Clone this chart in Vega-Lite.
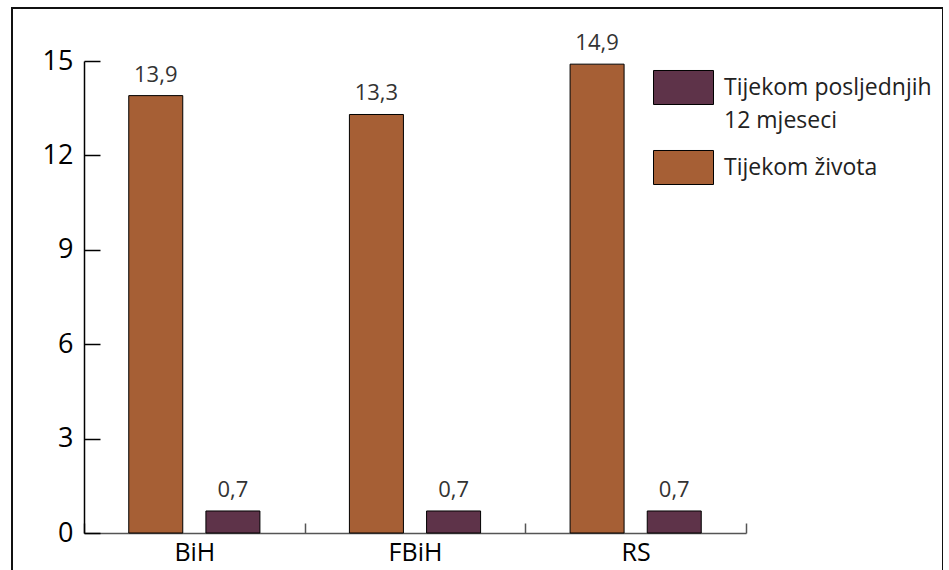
{
  "$schema": "https://vega.github.io/schema/vega-lite/v6.json",
  "width": 931,
  "height": 570,
  "autosize": {"type": "none"},
  "padding": {"left": 12, "top": 8, "right": 0, "bottom": 0},
  "config": {
    "view": {"stroke": "#111111", "strokeWidth": 2},
    "locale": {"number": {"decimal": ",", "thousands": ".", "grouping": [3], "currency": ["", ""]}},
    "font": "Open Sans",
    "style": {"guide-label": {"lineHeight": 33}}
  },
  "data": {
    "values": [
      {"region": "BiH", "period": "Tijekom života", "value": 13.9},
      {"region": "BiH", "period": "Tijekom posljednjih 12 mjeseci", "value": 0.7},
      {"region": "FBiH", "period": "Tijekom života", "value": 13.3},
      {"region": "FBiH", "period": "Tijekom posljednjih 12 mjeseci", "value": 0.7},
      {"region": "RS", "period": "Tijekom života", "value": 14.9},
      {"region": "RS", "period": "Tijekom posljednjih 12 mjeseci", "value": 0.7}
    ]
  },
  "encoding": {
    "x": {
      "field": "region", "type": "nominal", "sort": ["BiH", "FBiH", "RS"],
      "scale": {"range": [72, 734], "paddingInner": 0, "paddingOuter": 0},
      "axis": {"title": null, "offset": -45, "tickBand": "extent", "tickSize": -10, "domainColor": "#555555", "tickColor": "#555555", "domainWidth": 1.5, "tickWidth": 1.5, "labelFontSize": 25, "labelColor": "#000000", "labelPadding": 17, "labelAngle": 0}
    },
    "xOffset": {
      "field": "period", "type": "nominal", "sort": ["Tijekom života", "Tijekom posljednjih 12 mjeseci"],
      "scale": {"paddingInner": 0.3, "paddingOuter": 0.58}
    },
    "y": {
      "field": "value", "type": "quantitative",
      "scale": {"domain": [0, 15], "range": [525, 53], "nice": false},
      "axis": {"title": null, "grid": false, "values": [0, 3, 6, 9, 12, 15], "format": "d", "offset": -72, "domainColor": "#000000", "tickColor": "#000000", "domainWidth": 1.5, "tickWidth": 1.5, "tickSize": -16, "labelPadding": 27, "labelFontSize": 27, "labelColor": "#000000"}
    }
  },
  "layer": [
    {
      "mark": {"type": "bar", "stroke": "#000000", "strokeWidth": 1},
      "encoding": {
        "color": {
          "field": "period", "type": "nominal",
          "scale": {"domain": ["Tijekom posljednjih 12 mjeseci", "Tijekom života"], "range": ["#5E3349", "#A65F35"]},
          "legend": {
            "orient": "none", "legendX": 641, "legendY": 49, "title": null, "padding": 0,
            "symbolType": "M-1,-0.567L1,-0.567L1,0.567L-1,0.567Z", "symbolSize": 3600,
            "symbolStrokeColor": "#000000", "symbolStrokeWidth": 1, "symbolOpacity": 1,
            "labelFontSize": 23, "labelColor": "#222222", "labelLimit": 300, "labelOffset": 10,
            "rowPadding": 4,
            "labelExpr": "datum.label == 'Tijekom posljednjih 12 mjeseci' ? ['Tijekom posljednjih', '12 mjeseci'] : datum.label"
          }
        }
      }
    },
    {
      "mark": {"type": "text", "dy": -21, "fontSize": 22, "color": "#333333"},
      "encoding": {
        "text": {"field": "value", "type": "quantitative", "format": ".1f"}
      }
    }
  ]
}
